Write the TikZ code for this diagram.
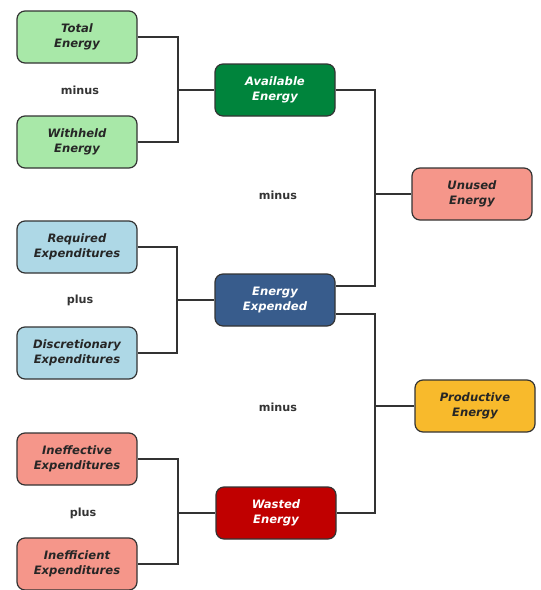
\documentclass[tikz,border=0pt]{standalone}
\usepackage{fontspec}
\usepackage{tikz}
\usepackage{xcolor}
\newfontfamily\verdana{DejaVu Sans}
\definecolor{lightgreen}{RGB}{168,232,168}
\definecolor{darkgreen}{RGB}{0,132,60}
\definecolor{lightblue}{RGB}{174,216,230}
\definecolor{darkblue}{RGB}{56,92,140}
\definecolor{salmon}{RGB}{245,150,138}
\definecolor{darkred}{RGB}{192,0,0}
\definecolor{amber}{RGB}{248,186,44}
\definecolor{edgegray}{RGB}{51,51,51}
\tikzset{every picture/.style={line width=0.75pt}}
\tikzset{
  energybox/.style={draw=edgegray, line width=0.9pt, rounded corners=6pt, minimum width=90pt, minimum height=39pt, align=center, inner sep=1pt, font=\verdana\bfseries\itshape\fontsize{8.7}{11.2}\selectfont, text=black!85},
  darkbox/.style={energybox, text=white},
  opword/.style={font=\verdana\bfseries\fontsize{8.4}{10}\selectfont, text=black!80},
  joint/.style={draw=edgegray, line width=1pt}
}

\begin{document}
\begin{tikzpicture}[x=0.75pt,y=0.75pt,yscale=-1,xscale=1]
\useasboundingbox (0,0) rectangle (540,590);

%Shape: Left column
\node [energybox, fill=lightgreen] (total) at (77,37) {Total\\Energy};
\node [energybox, fill=lightgreen] (withheld) at (77,142) {Withheld\\Energy};
\node [energybox, fill=lightblue] (required) at (77,247) {Required\\Expenditures};
\node [energybox, fill=lightblue] (discretionary) at (77,353) {Discretionary\\Expenditures};
\node [energybox, fill=salmon] (ineffective) at (77,459) {Ineffective\\Expenditures};
\node [energybox, fill=salmon] (inefficient) at (77,564) {Inefficient\\Expenditures};
%Shape: Middle column
\node [darkbox, fill=darkgreen] (available) at (275,90) {Available\\Energy};
\node [darkbox, fill=darkblue] (expended) at (275,300) {Energy\\Expended};
\node [darkbox, fill=darkred] (wasted) at (276,513) {Wasted\\Energy};
%Shape: Right column
\node [energybox, fill=salmon] (unused) at (472,194) {Unused\\Energy};
\node [energybox, fill=amber] (productive) at (475,406) {Productive\\Energy};

% Text Node
\node [opword] (op1) at (80,90) {minus};
\node [opword] (op2) at (80,300) {plus};
\node [opword] (op3) at (83,513) {plus};
\node [opword] (op4) at (278,195) {minus};
\node [opword] (op5) at (278,407) {minus};

%Straight Lines
\coordinate (jA) at (178,90);
\coordinate (jB) at (177,300);
\coordinate (jC) at (178,513);
\coordinate (jD) at (375,194);
\coordinate (jE) at (375,406);
\draw [joint] (total.east) -| (jA) |- (withheld.east);
\draw [joint] (jA) -- (available.west);
\draw [joint] (required.east) -| (jB) |- (discretionary.east);
\draw [joint] (jB) -- (expended.west);
\draw [joint] (ineffective.east) -| (jC) |- (inefficient.east);
\draw [joint] (jC) -- (wasted.west);
\draw [joint] (available.east) -| (jD) |- (expended.13);
\draw [joint] (jD) -- (unused.west);
\draw [joint] (expended.-13) -| (jE) |- (wasted.east);
\draw [joint] (jE) -- (productive.west);

\end{tikzpicture}
\end{document}
